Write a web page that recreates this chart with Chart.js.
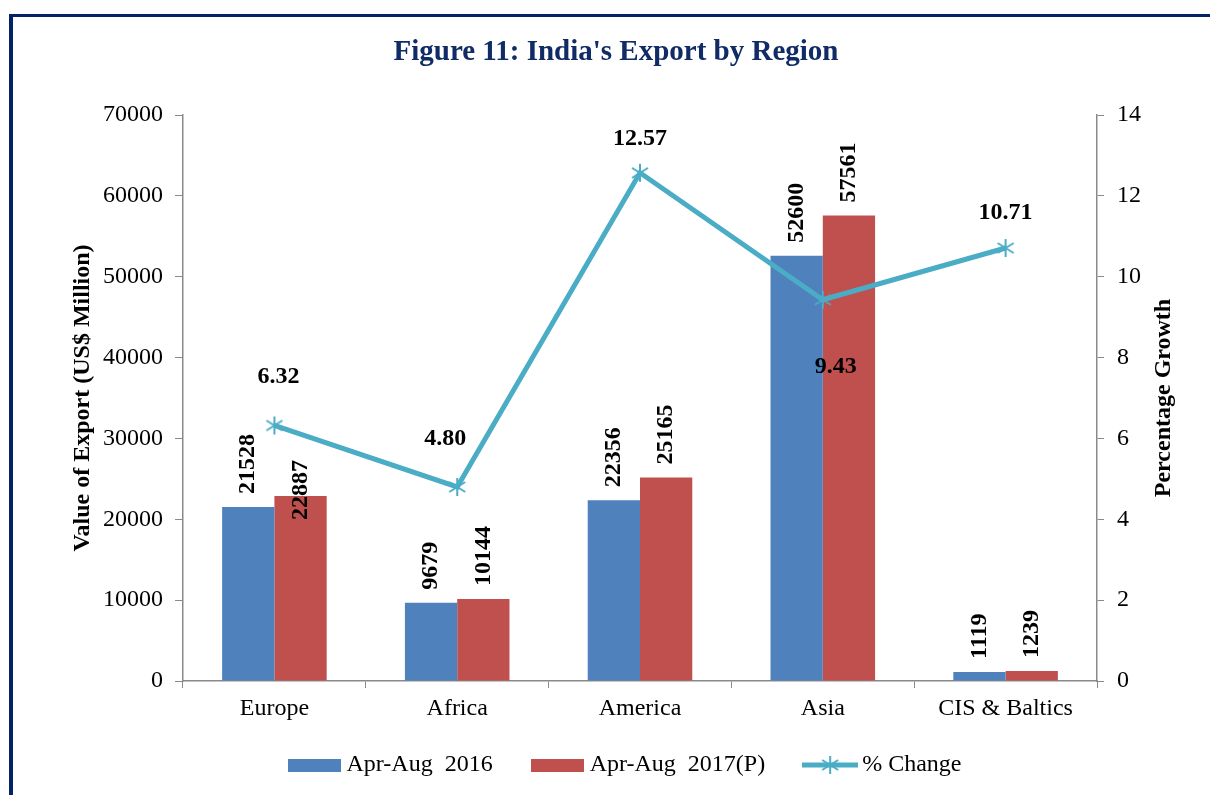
<!DOCTYPE html>
<html><head><meta charset="utf-8">
<script src="https://cdn.jsdelivr.net/npm/chart.js@4.4.0/dist/chart.umd.min.js"></script>
<style>
html,body{margin:0;padding:0;background:#fff;overflow:hidden;width:1210px;height:795px;}
#frame{position:absolute;left:9px;top:14px;width:1400px;height:1000px;border-left:4px solid #022366;border-top:3px solid #022366;}
#c{position:absolute;left:0;top:0;}
</style></head><body>
<div id="frame"></div>
<canvas id="c" width="1210" height="795"></canvas>
<script>
const categories = ['Europe', 'Africa', 'America', 'Asia', 'CIS & Baltics'];
const exports2016 = [21528, 9679, 22356, 52600, 1119];
const exports2017 = [22887, 10144, 25165, 57561, 1239];
const pctChange = [6.32, 4.80, 12.57, 9.43, 10.71];
const seriesNames = ['Apr-Aug  2016', 'Apr-Aug  2017(P)', '% Change'];
const leftTicks = [0, 10000, 20000, 30000, 40000, 50000, 60000, 70000];
const rightTicks = [0, 2, 4, 6, 8, 10, 12, 14];

const BLUE = '#4F81BD', RED = '#C0504D', TEAL = '#4BACC6', AXIS = '#898989';
const FONT = 'Liberation Serif';

function drawStar(ctx, cx, cy) {
  ctx.strokeStyle = TEAL; ctx.lineWidth = 2; ctx.lineCap = 'butt';
  ctx.beginPath();
  ctx.moveTo(cx, cy - 9); ctx.lineTo(cx, cy + 9);
  ctx.moveTo(cx - 8, cy - 5); ctx.lineTo(cx + 8, cy + 5);
  ctx.moveTo(cx - 8, cy + 5); ctx.lineTo(cx + 8, cy - 5);
  ctx.stroke();
}
function makeCanvas(w, h, fn) {
  const c = document.createElement('canvas'); c.width = w; c.height = h;
  fn(c.getContext('2d')); return c;
}
const starImg = makeCanvas(20, 20, g => drawStar(g, 10, 10));
const legendImgs = [
  makeCanvas(53, 13, g => { g.fillStyle = BLUE; g.fillRect(0, 0, 53, 13); }),
  makeCanvas(53, 13, g => { g.fillStyle = RED; g.fillRect(0, 0, 53, 13); }),
  makeCanvas(56, 20, g => {
    g.strokeStyle = TEAL; g.lineWidth = 5; g.beginPath(); g.moveTo(0, 10); g.lineTo(56, 10); g.stroke();
    drawStar(g, 28, 10);
  })
];

const labelPlugin = {
  id: 'valueLabels',
  afterLayout(chart) {
    // let category labels extend below the compact x-axis box, shift title slightly left
    chart.scales.x.bottom = chart.scales.x.top + 60;
    if (chart.titleBlock) { chart.titleBlock.left -= 12; chart.titleBlock.right -= 12; }
  },
  afterDatasetsDraw(chart, args, opts) {
    const ctx = chart.ctx;
    ctx.save();
    ctx.font = 'bold 24px "' + FONT + '"';
    ctx.fillStyle = '#000';
    [0, 1].forEach(di => {
      const meta = chart.getDatasetMeta(di);
      meta.data.forEach((bar, i) => {
        const shift = (opts.barShift[di] && opts.barShift[di][i]) || 0;
        ctx.save();
        ctx.translate(bar.x, bar.y - opts.barGap + shift);
        ctx.rotate(-Math.PI / 2);
        ctx.textAlign = 'left'; ctx.textBaseline = 'middle';
        ctx.fillText(String(chart.data.datasets[di].data[i]), 0, 0);
        ctx.restore();
      });
    });
    const lm = chart.getDatasetMeta(2);
    lm.data.forEach((pt, i) => {
      const o = opts.lineOffsets[i];
      ctx.textAlign = 'center'; ctx.textBaseline = 'middle';
      ctx.fillText(pctChange[i].toFixed(2), pt.x + o[0], pt.y + o[1]);
    });
    // right axis title (reads bottom-to-top)
    const s = chart.scales.y1, ca = chart.chartArea;
    ctx.save();
    ctx.translate(s.left + 67, (ca.top + ca.bottom) / 2);
    ctx.rotate(-Math.PI / 2);
    ctx.textAlign = 'center'; ctx.textBaseline = 'middle';
    ctx.fillText('Percentage Growth', 0, 0);
    ctx.restore();
    ctx.restore();
  }
};

const tickFont = {family: FONT, size: 24};
new Chart(document.getElementById('c'), {
  type: 'bar',
  data: {
    labels: categories,
    datasets: [
      {label: seriesNames[0], data: exports2016, backgroundColor: BLUE, yAxisID: 'y', order: 1,
       categoryPercentage: 0.572, barPercentage: 1},
      {label: seriesNames[1], data: exports2017, backgroundColor: RED, yAxisID: 'y', order: 1,
       categoryPercentage: 0.572, barPercentage: 1},
      {type: 'line', label: seriesNames[2], data: pctChange, borderColor: TEAL, backgroundColor: TEAL,
       borderWidth: 5, pointStyle: starImg, pointRadius: 9, yAxisID: 'y1', order: 0, tension: 0, fill: false}
    ]
  },
  options: {
    responsive: false, animation: false,
    layout: {padding: {left: 60, right: 14, top: 0, bottom: 8}},
    plugins: {
      title: {display: true, text: "Figure 11: India's Export by Region", color: '#112B66',
        font: {family: FONT, size: 29, weight: 'bold', lineHeight: 1.2}, padding: {top: 35.6, bottom: 44.6}},
      legend: {position: 'bottom',
        labels: {usePointStyle: true, pointStyleWidth: 40, padding: 45, color: '#000', font: {family: FONT, size: 24},
          sort: (a, b) => a.datasetIndex - b.datasetIndex,
          generateLabels: chart => Chart.defaults.plugins.legend.labels.generateLabels(chart).map(l => {
            l.pointStyle = legendImgs[l.datasetIndex]; return l; })}},
      tooltip: {enabled: false},
      valueLabels: {barGap: 13, barShift: {1: {0: 37}},
        lineOffsets: [[4, -49], [-12, -48], [0, -34], [13, 67], [0, -35]]}
    },
    scales: {
      x: {grid: {display: true, drawOnChartArea: false, drawTicks: true, tickLength: 7, color: AXIS, offset: true},
        border: {color: AXIS, width: 1.5}, ticks: {color: '#000', font: tickFont, padding: 6},
        afterFit: s => { s.height = 27; }},
      y: {position: 'left', min: 0, max: 70000,
        afterBuildTicks: s => { s.ticks = leftTicks.map(v => ({value: v})); },
        ticks: {callback: v => String(v), padding: 12, color: '#000', font: tickFont},
        grid: {drawOnChartArea: false, tickLength: 8, color: AXIS}, border: {color: AXIS, width: 1.5},
        title: {display: true, text: 'Value of Export (US$ Million)', color: '#000',
          font: {family: FONT, size: 24, weight: 'bold'}, padding: {top: 8.6, bottom: 0}},
        afterFit: s => { s.width = 123; }},
      y1: {position: 'right', min: 0, max: 14,
        afterBuildTicks: s => { s.ticks = rightTicks.map(v => ({value: v})); },
        ticks: {callback: v => String(v), padding: 13, color: '#000', font: tickFont},
        grid: {drawOnChartArea: false, tickLength: 7, color: AXIS}, border: {color: AXIS, width: 1.5},
        afterFit: s => { s.width = 99; }}
    }
  },
  plugins: [labelPlugin]
});
</script>
</body></html>
